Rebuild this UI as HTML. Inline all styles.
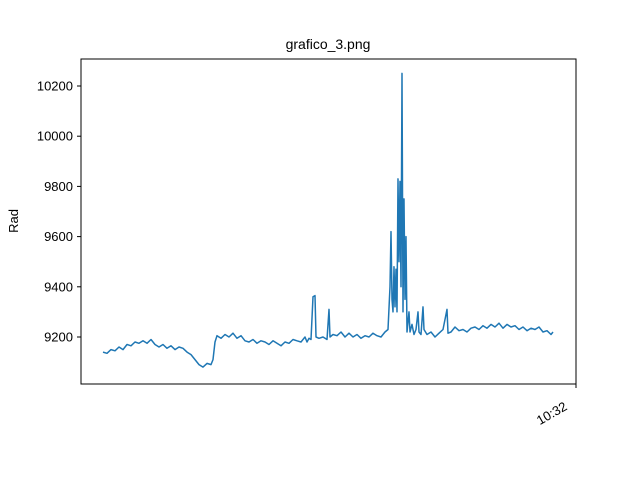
<!DOCTYPE html>
<html><head><meta charset="utf-8"><style>
body{margin:0;background:#fff}
svg{display:block;font-family:"Liberation Sans","DejaVu Sans",sans-serif}
</style></head><body>
<svg id="chart" width="640" height="480" viewBox="0 0 640 480">
<rect x="0" y="0" width="640" height="480" fill="#fff"/>
<text x="328" y="49" text-anchor="middle" font-size="14">grafico_3.png</text>
<text transform="translate(18,221) rotate(-90)" text-anchor="middle" font-size="13">Rad</text>
<g id="yticks"></g>
<g id="xticks"></g>
<path id="line" fill="none" stroke="#1f77b4" stroke-width="1.5" stroke-linejoin="round"/>
<rect x="81" y="59" width="495" height="325" fill="none" stroke="#000" stroke-width="1"/>
</svg>
<script>
const times=[0,4,8,12,16,20,24,28,32,36,40,44,48,52,56,60,64,68,72,76,80,84,88,92,96,100,104,108,110,112,114,118,122,126,130,134,138,142,146,150,154,158,162,166,170,174,178,182,186,190,194,198,202,204,206,208,210,212,213,216,220,224,226,227,230,234,238,242,246,250,254,258,262,266,270,274,278,282,285,287,288,289,290,291,292,293,294,295,296,297,298,299,300,301,302,303,304,306,307,309,311,313,315,316,318,320,321,324,328,332,336,340,344,345,348,352,356,360,364,368,372,376,380,384,388,392,396,400,404,408,412,416,420,424,428,432,436,440,444,448,450];
const values=[9140,9135,9150,9145,9160,9150,9170,9165,9180,9175,9185,9175,9190,9170,9160,9170,9155,9165,9150,9160,9155,9140,9130,9110,9090,9080,9095,9090,9110,9180,9205,9195,9210,9200,9215,9195,9205,9185,9180,9190,9175,9185,9180,9170,9185,9175,9165,9180,9175,9190,9185,9180,9200,9180,9195,9190,9360,9365,9200,9195,9200,9190,9310,9200,9210,9205,9220,9200,9215,9200,9210,9195,9205,9200,9215,9205,9200,9220,9230,9400,9620,9350,9300,9480,9320,9470,9300,9830,9500,9820,9400,10250,9300,9750,9350,9600,9220,9300,9220,9250,9210,9230,9300,9220,9210,9320,9230,9210,9220,9200,9215,9230,9310,9215,9220,9240,9225,9230,9220,9235,9240,9230,9245,9235,9250,9240,9255,9235,9250,9240,9245,9230,9240,9225,9235,9230,9240,9220,9225,9210,9220];
const yTicks=[9200,9400,9600,9800,10000,10200];
const xTickVals=[473];
const xTickLabels=["10:32"];
const x=t=>81+(t+22)*(495/495);
const y=v=>337-(v-9200)*0.251;
const NS="http://www.w3.org/2000/svg";
let d="";
times.forEach((t,i)=>{d+=(i?"L":"M")+x(t).toFixed(1)+","+y(values[i]).toFixed(1);});
document.getElementById("line").setAttribute("d",d);
const yg=document.getElementById("yticks");
yTicks.forEach(v=>{
 const l=document.createElementNS(NS,"line");
 l.setAttribute("x1",77);l.setAttribute("x2",81);l.setAttribute("y1",y(v));l.setAttribute("y2",y(v));l.setAttribute("stroke","#000");
 
 
 yg.appendChild(l);
 const t=document.createElementNS(NS,"text");
 t.setAttribute("x",73);t.setAttribute("y",y(v)+4.5);t.setAttribute("text-anchor","end");t.setAttribute("font-size","13");
 t.textContent=v;
 
 
 yg.appendChild(t);
});
const xg=document.getElementById("xticks");
xTickVals.forEach((v,i)=>{
 const l=document.createElementNS(NS,"line");
 l.setAttribute("x1",x(v));l.setAttribute("x2",x(v));l.setAttribute("y1",384);l.setAttribute("y2",388);l.setAttribute("stroke","#000");
 
 
 xg.appendChild(l);
 const t=document.createElementNS(NS,"text");
 t.setAttribute("transform","translate("+(x(v)-8)+",409) rotate(-30)");
 t.setAttribute("text-anchor","end");t.setAttribute("font-size","13");
 t.textContent=xTickLabels[i];
 
 
 xg.appendChild(t);
});
</script>
</body></html>
